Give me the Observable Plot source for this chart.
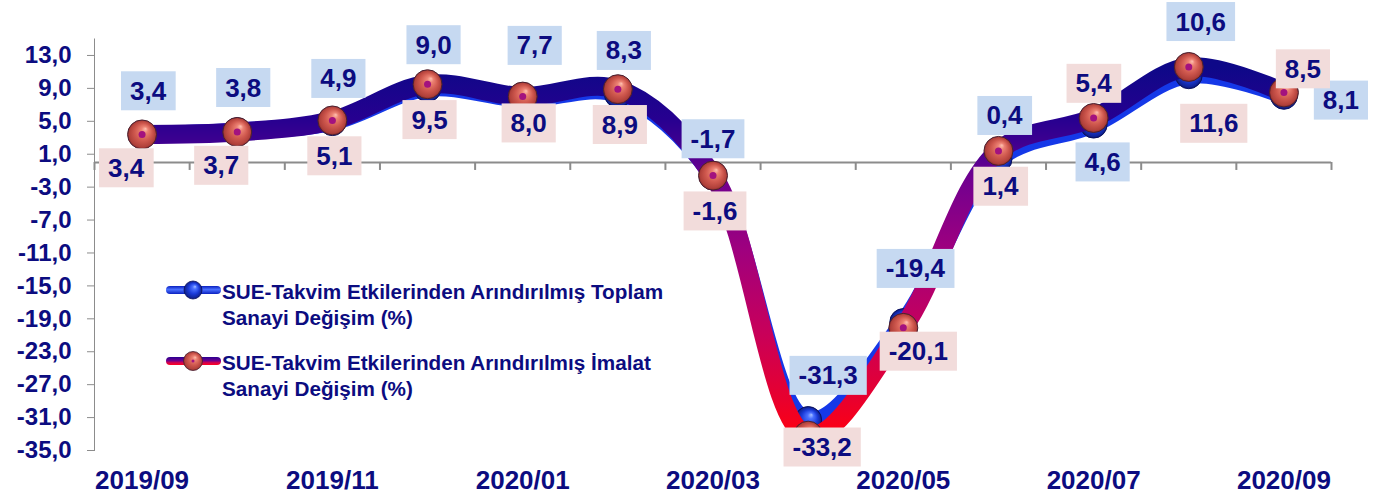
<!DOCTYPE html>
<html>
<head>
<meta charset="utf-8">
<script src="https://cdn.jsdelivr.net/npm/d3@7"></script>
<script src="https://cdn.jsdelivr.net/npm/@observablehq/plot@0.6"></script>
<style>
  body { margin: 0; background: #fff; font-family: "Liberation Sans", Arial, sans-serif; }
  #wrap { position: relative; width: 1378px; height: 496px; overflow: hidden; }
  #wrap svg text { fill: #0c0c80; font-weight: bold; }
  #wrap g[aria-label^="y-axis"] text { font-size: 24px; }
  #wrap g[aria-label^="x-axis"] text { font-size: 26px; }
  #legend { position: absolute; left: 165px; top: 279px; color: #0c0c80; font-weight: bold; font-size: 20.7px; line-height: 26px; }
  .entry { display: flex; align-items: flex-start; margin-bottom: 19px; }
  .entry svg { flex: none; }
</style>
</head>
<body>
<div id="wrap"></div>
<script>
// ---- data ----
const months = ["2019/09","2019/10","2019/11","2019/12","2020/01","2020/02","2020/03","2020/04","2020/05","2020/06","2020/07","2020/08","2020/09"];
const totalValues = [3.4, 3.8, 4.9, 9.0, 7.7, 8.3, -1.7, -31.3, -19.4, 0.4, 4.6, 10.6, 8.1];
const manufValues = [3.4, 3.7, 5.1, 9.5, 8.0, 8.9, -1.6, -33.2, -20.1, 1.4, 5.4, 11.6, 8.5];
const yTicks = [-35, -31, -27, -23, -19, -15, -11, -7, -3, 1, 5, 9, 13];
const xLabelIndex = [0, 2, 4, 6, 8, 10, 12];
const legendLines = [
  ["SUE-Takvim Etkilerinden Arındırılmış Toplam", "Sanayi Değişim (%)"],
  ["SUE-Takvim Etkilerinden Arındırılmış İmalat", "Sanayi Değişim (%)"]
];
// label placement keywords (which side of the point the value box sits)
const totalPlacement = ["above","above","above","above","high","above","aboveNear","aboveRight","high","above","below","high","right"];
const manufPlacement = ["underLeft","underLeft","under","under","underNear","under","under","bottom","underRight","under","over","underFar","overRight"];

// ---- styling ----
const placementOffsets = {
  above: [6, -43], high: [12, -53], aboveNear: [0, -37], aboveRight: [20, -44], below: [9, 38], right: [57, 5],
  underLeft: [-16, 34], under: [2, 36], underNear: [6, 27], bottom: [14, 12], underRight: [15, 24],
  underFar: [25, 57], over: [0, -34], overRight: [19, -23]
};
const fmt = v => v.toFixed(1).replace(".", ",");
const idx = d3.range(months.length);

function labelMarks(values, placement, name) {
  return Object.entries(placementOffsets).map(([key, [dx, dy]]) =>
    Plot.text(idx.filter(i => placement[i] === key), {
      x: i => i, y: i => values[i], text: i => fmt(values[i]),
      dx, dy, fontSize: 26, fontWeight: "bold", fill: "#0c0c80", ariaDescription: name
    })
  );
}

const svg = Plot.plot({
  width: 1378, height: 496,
  marginTop: 38.5, marginBottom: 46, marginLeft: 94, marginRight: 47,
  style: { fontFamily: "Liberation Sans, Arial, sans-serif", color: "#8c8c8c", background: "white", overflow: "visible" },
  x: { type: "linear", domain: [-0.5, months.length - 0.5], ticks: xLabelIndex, tickFormat: i => months[i], tickSize: 0, tickPadding: 20, label: null },
  y: { domain: [-35, 15], ticks: yTicks, tickFormat: fmt, tickSize: 7, tickPadding: 16, line: true, label: null },
  marks: [
    Plot.ruleY([0], { stroke: "#8c8c8c", strokeWidth: 2 }),
    Plot.ruleX(d3.range(-0.5, months.length, 1), { x: d => d, y1: 0, y2: 0, insetBottom: -8, stroke: "#8c8c8c", strokeWidth: 2 }),
    Plot.line(idx, { x: i => i, y: i => totalValues[i], curve: "catmull-rom", stroke: "#1538e8", strokeWidth: 17 }),
    Plot.dot(idx, { x: i => i, y: i => totalValues[i], r: 13.5, fill: "url(#blueBall)", stroke: "#0a1060", strokeWidth: 1 }),
    Plot.line(idx, { x: i => i, y: i => manufValues[i], curve: "catmull-rom", stroke: "url(#mfgGrad)", strokeWidth: 19 }),
    Plot.dot(idx, { x: i => i, y: i => manufValues[i], r: 14.5, fill: "url(#redBall)", stroke: "#4a2030", strokeWidth: 1 }),
    Plot.dot(idx, { x: i => i, y: i => manufValues[i], r: 3.5, fill: "#a3127f", stroke: "none" }),
    ...labelMarks(totalValues, totalPlacement, "total-labels"),
    ...labelMarks(manufValues, manufPlacement, "manuf-labels")
  ]
});

// gradients
const defs = d3.select(svg).insert("defs", ":first-child");
function linGrad(id, stops) {
  const g = defs.append("linearGradient").attr("id", id).attr("x1", 0).attr("y1", 0).attr("x2", 0).attr("y2", 1);
  stops.forEach(([o, c]) => g.append("stop").attr("offset", o).attr("stop-color", c));
}
function radGrad(id, stops) {
  const g = defs.append("radialGradient").attr("id", id).attr("cx", 0.5).attr("cy", 0.5).attr("r", 0.5).attr("fx", 0.62).attr("fy", 0.3);
  stops.forEach(([o, c]) => g.append("stop").attr("offset", o).attr("stop-color", c));
}
linGrad("mfgGrad", [[0, "#0e0888"], [0.14, "#260090"], [0.2, "#3c0090"], [0.3, "#700090"], [0.5, "#a0007e"], [0.72, "#c8005a"], [0.9, "#e8002e"], [1, "#ff0010"]]);
linGrad("legendMfg", [[0, "#2a0090"], [0.45, "#6a0090"], [0.7, "#d00050"], [1, "#ff0020"]]);
linGrad("legendTot", [[0, "#0a20c0"], [0.45, "#4a70ff"], [1, "#0a20c0"]]);
radGrad("redBall", [[0, "#ffc0b0"], [0.22, "#ec8273"], [0.6, "#cf584e"], [0.9, "#b0403a"], [1, "#8a2c2c"]]);
radGrad("blueBall", [[0, "#a8c0ff"], [0.22, "#4a70ff"], [0.6, "#1a3ad8"], [0.9, "#10249a"], [1, "#0a1670"]]);

document.getElementById("wrap").appendChild(svg);

// value boxes behind the labels
function boxes(name, fill) {
  svg.querySelectorAll(`g[aria-description="${name}"] text`).forEach(t => {
    const b = t.getBBox();
    const r = document.createElementNS("http://www.w3.org/2000/svg", "rect");
    const cy = b.y + b.height / 2;
    r.setAttribute("x", b.x - 9);
    r.setAttribute("width", b.width + 18);
    r.setAttribute("y", cy - 19.5);
    r.setAttribute("height", 39);
    r.setAttribute("fill", fill);
    if (t.getAttribute("transform")) r.setAttribute("transform", t.getAttribute("transform"));
    t.parentNode.insertBefore(r, t);
  });
}
boxes("total-labels", "#c6d9f1");
boxes("manuf-labels", "#f2dcdb");

// legend
const legend = document.createElement("div");
legend.id = "legend";
const symbols = [
  `<rect x="1" y="7" width="55" height="8" rx="4" fill="url(#legendTot)"/><circle cx="28" cy="11" r="9" fill="url(#blueBall)" stroke="#0a1060" stroke-width="0.8"/>`,
  `<rect x="1" y="7" width="55" height="8" rx="4" fill="url(#legendMfg)"/><circle cx="28" cy="11" r="9.5" fill="url(#redBall)" stroke="#4a2030" stroke-width="0.8"/><circle cx="28" cy="11" r="1.5" fill="#a3127f"/>`
];
legendLines.forEach((lines, k) => {
  const e = document.createElement("div");
  e.className = "entry";
  e.innerHTML = `<svg width="57" height="26">${symbols[k]}</svg><div>${lines.join("<br>")}</div>`;
  legend.appendChild(e);
});
document.getElementById("wrap").appendChild(legend);
</script>
</body>
</html>
